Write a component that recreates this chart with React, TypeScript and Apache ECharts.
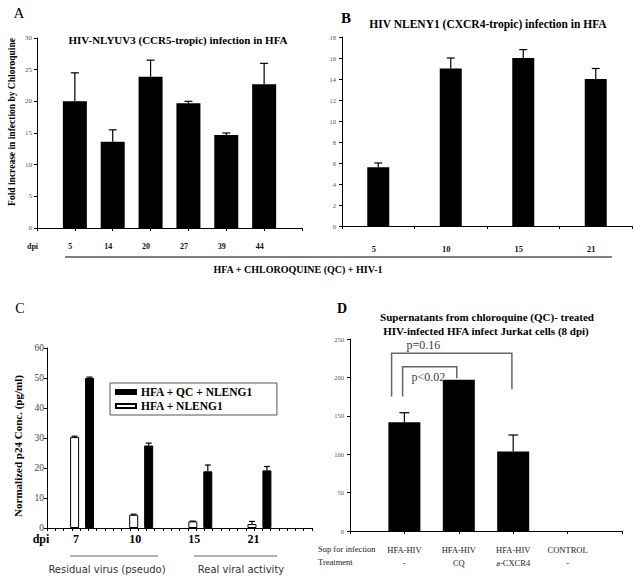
import React, { useEffect, useRef } from "react";
import * as echarts from "echarts";

// ---------- data ----------
const aDays = ["5", "14", "20", "27", "39", "44"];
const aMean = [20.0, 13.6, 23.9, 19.7, 14.7, 22.7];
const aSd = [4.5, 1.9, 2.6, 0.3, 0.3, 3.3];

const bDays = ["5", "10", "15", "21"];
const bMean = [5.6, 15.0, 16.0, 14.0];
const bSd = [0.4, 1.0, 0.8, 1.0];

const cDays = ["7", "10", "15", "21"];
const cQc = [50.0, 27.5, 18.9, 19.2];
const cQcSd = [0.3, 0.8, 2.1, 1.3];
const cCtl = [30.3, 4.4, 2.2, 1.3];
const cCtlSd = [0.3, 0.2, 0.1, 0.9];

const dSup = ["HFA-HIV", "HFA-HIV", "HFA-HIV", "CONTROL"];
const dTreat = ["-", "CQ", "a-CXCR4", "-"];
const dMean = [141.7, 197.0, 103.4, 0];
const dSd = [12.3, 0, 21.6, 0];

const dPvals = ["p=0.16", "p<0.02"];
const dBrFrom = [1, 1];
const dBrTo = [3, 2];
const dBrTop = [231.4, 213.9];
const dBrLeftEnd = [175, 175];
const dBrRightEnd = [184.6, 199];

// ---------- layout / style constants ----------
const SERIF = "Liberation Serif";
const SANS = "DejaVu Sans";
const brOffsets = [
  { l: -12.8, r: -1.3, tx: 15, ty: -8 },
  { l: -1.8, r: -2, tx: 9, ty: 10 },
];

function errRender(offset: number, cap: number) {
  return (_params: any, api: any) => {
    const x = api.value(0);
    const m = api.value(1);
    const sd = api.value(2);
    if (!sd) return null;
    const p0 = api.coord([x, m]);
    const p1 = api.coord([x, m + sd]);
    const cx = p0[0] + offset;
    const style = { stroke: "#000", lineWidth: 1.2 };
    return {
      type: "group",
      children: [
        { type: "line", shape: { x1: cx, y1: p0[1], x2: cx, y2: p1[1] }, style },
        { type: "line", shape: { x1: cx - cap, y1: p1[1], x2: cx + cap, y2: p1[1] }, style },
      ],
    };
  };
}

function bracketRender(params: any, api: any) {
  const i = params.dataIndex;
  const from = api.value(0);
  const to = api.value(1);
  const top = api.value(2);
  const le = api.value(3);
  const re = api.value(4);
  const o = brOffsets[i];
  const pTopL = api.coord([from, top]);
  const pTopR = api.coord([to, top]);
  const pLe = api.coord([from, le]);
  const pRe = api.coord([to, re]);
  const xl = pTopL[0] + o.l;
  const xr = pTopR[0] + o.r;
  return {
    type: "group",
    children: [
      {
        type: "polyline",
        shape: { points: [[xl, pLe[1]], [xl, pTopL[1]], [xr, pTopR[1]], [xr, pRe[1]]] },
        style: { stroke: "#666", lineWidth: 1.5, fill: "none" },
      },
      {
        type: "text",
        x: xl + o.tx,
        y: pTopL[1] + o.ty,
        style: {
          text: dPvals[i],
          fill: "#3a3a3a",
          fontSize: 12,
          fontFamily: SERIF,
          align: "left",
          verticalAlign: "middle",
        },
      },
    ],
  };
}

const axisLineStyle = { show: true, lineStyle: { color: "#000", width: 1 } };

function txt(text: string, x: number, y: number, size: number, weight: string, family: string, extra: any = {}) {
  return {
    type: "text",
    x,
    y,
    rotation: extra.rotation || 0,
    style: {
      text,
      fontSize: size,
      fontWeight: weight,
      fontFamily: family,
      fill: extra.fill || "#000",
      align: extra.align || "center",
      verticalAlign: "middle",
      lineHeight: extra.lineHeight,
    },
  };
}

export default function App() {
  const ref = useRef<HTMLDivElement>(null);
  useEffect(() => {
    if (!ref.current) return;
    const chart = echarts.init(ref.current, null, { renderer: "svg" });

    const aCats = ["dpi", ...aDays, ""];
    const dCats = ["", ...dSup.map((s, i) => s + "\n" + dTreat[i]), ""];

    const option: any = {
      animation: false,
      backgroundColor: "#fff",
      grid: [
        { left: 37, top: 38, width: 265, height: 190 },
        { left: 342, top: 37, width: 290, height: 189 },
        { left: 47, top: 348, width: 265, height: 180 },
        { left: 52.5, top: 348, width: 236.5, height: 180 },
        { left: 350, top: 339, width: 272, height: 192 },
      ],
      xAxis: [
        {
          gridIndex: 0,
          type: "category",
          data: aCats,
          boundaryGap: false,
          axisLine: axisLineStyle,
          axisTick: { show: true, length: 3, lineStyle: { color: "#000" } },
          axisLabel: {
            margin: 14,
            interval: 0,
            color: "#111",
            fontFamily: SERIF,
            fontWeight: "bold",
            fontSize: 8,
            padding: [0, 9, 0, 0],
          },
        },
        {
          gridIndex: 1,
          type: "category",
          data: bDays,
          axisLine: axisLineStyle,
          axisTick: { show: true, length: 3, lineStyle: { color: "#000" } },
          axisLabel: {
            margin: 18,
            color: "#111",
            fontFamily: SERIF,
            fontWeight: "bold",
            fontSize: 8.5,
            padding: [0, 9, 0, 0],
          },
        },
        {
          gridIndex: 2,
          type: "value",
          min: 0,
          max: 32,
          interval: 1,
          axisLine: axisLineStyle,
          axisTick: { show: true, length: 3, lineStyle: { color: "#000" } },
          axisLabel: { show: false },
          splitLine: { show: false },
        },
        {
          gridIndex: 3,
          type: "category",
          data: cDays,
          axisLine: { show: false },
          axisTick: { show: false },
          axisLabel: {
            margin: 5,
            color: "#000",
            fontFamily: SERIF,
            fontWeight: "bold",
            fontSize: 12,
            padding: [0, 12, 0, 0],
          },
        },
        {
          gridIndex: 4,
          type: "category",
          data: dCats,
          boundaryGap: false,
          axisLine: axisLineStyle,
          axisTick: { show: true, length: 3, lineStyle: { color: "#000" } },
          axisLabel: {
            margin: 12,
            interval: 0,
            color: "#222",
            fontFamily: SERIF,
            fontSize: 8.5,
            lineHeight: 13,
          },
        },
      ],
      yAxis: [
        {
          gridIndex: 0,
          type: "value",
          min: 0,
          max: 30,
          interval: 5,
          axisLine: axisLineStyle,
          axisTick: { show: true, length: 3, lineStyle: { color: "#000" } },
          splitLine: { show: false },
          axisLabel: { color: "#555", fontFamily: SERIF, fontSize: 7, margin: 5 },
        },
        {
          gridIndex: 1,
          type: "value",
          min: 0,
          max: 18,
          interval: 2,
          axisLine: axisLineStyle,
          axisTick: { show: true, length: 3, lineStyle: { color: "#000" } },
          splitLine: { show: false },
          axisLabel: { color: "#555", fontFamily: SERIF, fontSize: 6.5, margin: 6 },
        },
        {
          gridIndex: 2,
          type: "value",
          min: 0,
          max: 60,
          interval: 10,
          axisLine: axisLineStyle,
          axisTick: { show: true, length: 3, lineStyle: { color: "#000" } },
          splitLine: { show: false },
          axisLabel: { color: "#444", fontFamily: SERIF, fontSize: 9.5, margin: 3 },
        },
        {
          gridIndex: 3,
          type: "value",
          min: 0,
          max: 60,
          show: false,
          splitLine: { show: false },
        },
        {
          gridIndex: 4,
          type: "value",
          min: 0,
          max: 250,
          interval: 50,
          axisLine: axisLineStyle,
          axisTick: { show: true, length: 3, lineStyle: { color: "#000" } },
          splitLine: { show: false },
          axisLabel: { color: "#555", fontFamily: SERIF, fontSize: 6.5, margin: 6 },
        },
      ],
      legend: {
        data: ["HFA + QC + NLENG1", "HFA + NLENG1"],
        orient: "vertical",
        left: 110,
        top: 383,
        icon: "rect",
        itemWidth: 20,
        itemHeight: 4,
        itemGap: 2,
        borderColor: "#555",
        borderWidth: 1,
        padding: [3, 24, 3, 5],
        textStyle: { fontFamily: SERIF, fontWeight: "bold", fontSize: 11.5, color: "#000" },
      },
      series: [
        {
          type: "bar",
          xAxisIndex: 0,
          yAxisIndex: 0,
          data: ["-", ...aMean, "-"],
          barWidth: 24,
          itemStyle: { color: "#000" },
        },
        {
          type: "custom",
          xAxisIndex: 0,
          yAxisIndex: 0,
          data: aMean.map((m, i) => [i + 1, m, aSd[i]]),
          renderItem: errRender(0, 4),
          z: 5,
        },
        {
          type: "bar",
          xAxisIndex: 1,
          yAxisIndex: 1,
          data: bMean,
          barWidth: 22,
          itemStyle: { color: "#000" },
        },
        {
          type: "custom",
          xAxisIndex: 1,
          yAxisIndex: 1,
          data: bMean.map((m, i) => [i, m, bSd[i]]),
          renderItem: errRender(0, 4),
          z: 5,
        },
        {
          name: "HFA + NLENG1",
          type: "bar",
          xAxisIndex: 3,
          yAxisIndex: 3,
          data: cCtl,
          barWidth: 9,
          barGap: "66%",
          itemStyle: { color: "#fff", borderColor: "#000", borderWidth: 1 },
        },
        {
          name: "HFA + QC + NLENG1",
          type: "bar",
          xAxisIndex: 3,
          yAxisIndex: 3,
          data: cQc,
          barWidth: 9,
          barGap: "66%",
          itemStyle: { color: "#000", borderColor: "#000", borderWidth: 1 },
        },
        {
          type: "custom",
          xAxisIndex: 3,
          yAxisIndex: 3,
          data: cCtl.map((m, i) => [i, m, cCtlSd[i]]),
          renderItem: errRender(-7.5, 3),
          z: 5,
        },
        {
          type: "custom",
          xAxisIndex: 3,
          yAxisIndex: 3,
          data: cQc.map((m, i) => [i, m, cQcSd[i]]),
          renderItem: errRender(7.5, 3),
          z: 5,
        },
        {
          type: "bar",
          xAxisIndex: 4,
          yAxisIndex: 4,
          data: ["-", ...dMean, "-"],
          barWidth: 32,
          itemStyle: { color: "#000" },
        },
        {
          type: "custom",
          xAxisIndex: 4,
          yAxisIndex: 4,
          data: dMean.map((m, i) => [i + 1, m, dSd[i]]),
          renderItem: errRender(0, 5),
          z: 5,
        },
        {
          type: "custom",
          xAxisIndex: 4,
          yAxisIndex: 4,
          itemStyle: { color: "#3a3a3a" },
          data: dPvals.map((_p, i) => [dBrFrom[i], dBrTo[i], dBrTop[i], dBrLeftEnd[i], dBrRightEnd[i]]),
          renderItem: bracketRender,
          z: 6,
        },
      ],
      graphic: [
        // panel letters
        txt("A", 19, 13, 15, "normal", SERIF),
        txt("B", 346, 18, 15, "bold", SERIF),
        txt("C", 20, 308, 14, "normal", SERIF),
        txt("D", 342, 308, 14, "bold", SERIF),
        // titles
        txt("HIV-NLYUV3 (CCR5-tropic) infection in HFA", 178, 40, 11, "bold", SERIF),
        txt("HIV NLENY1 (CXCR4-tropic) infection in HFA", 488, 24, 11.5, "bold", SERIF),
        txt("Supernatants from chloroquine (QC)- treated", 487, 317, 11, "bold", SERIF),
        txt("HIV-infected HFA infect Jurkat cells (8 dpi)", 486, 331, 11, "bold", SERIF),
        // axis names
        txt("Fold increase in infection by Chloroquine", 12, 122, 9.5, "bold", SERIF, { rotation: Math.PI / 2 }),
        txt("Normalized p24 Conc. (pg/ml)", 18, 446, 11, "bold", SERIF, { rotation: Math.PI / 2 }),
        // A/B shared bottom
        { type: "line", shape: { x1: 65, y1: 257, x2: 612, y2: 257 }, style: { stroke: "#000", lineWidth: 1 } },
        txt("HFA + CHLOROQUINE (QC) + HIV-1", 298, 269, 10, "bold", SERIF),
        // C bottom
        txt("dpi", 41, 539, 12, "bold", SERIF),
        { type: "line", shape: { x1: 70, y1: 556, x2: 158, y2: 556 }, style: { stroke: "#666", lineWidth: 1 } },
        { type: "line", shape: { x1: 194, y1: 556, x2: 277, y2: 556 }, style: { stroke: "#666", lineWidth: 1 } },
        txt("Residual virus (pseudo)", 107, 569, 10, "normal", SANS, { fill: "#333" }),
        txt("Real viral activity", 241, 569, 10, "normal", SANS, { fill: "#333" }),
        // D row header
        txt("Sup for infection\nTreatment", 318, 555, 8.5, "normal", SERIF, { align: "left", fill: "#222", lineHeight: 13 }),
      ],
    };

    chart.setOption(option);
    return () => chart.dispose();
  }, []);

  return (
    <div
      ref={ref}
      style={{ position: "fixed", left: 0, top: 0, width: 635, height: 581, background: "#fff" }}
    />
  );
}
